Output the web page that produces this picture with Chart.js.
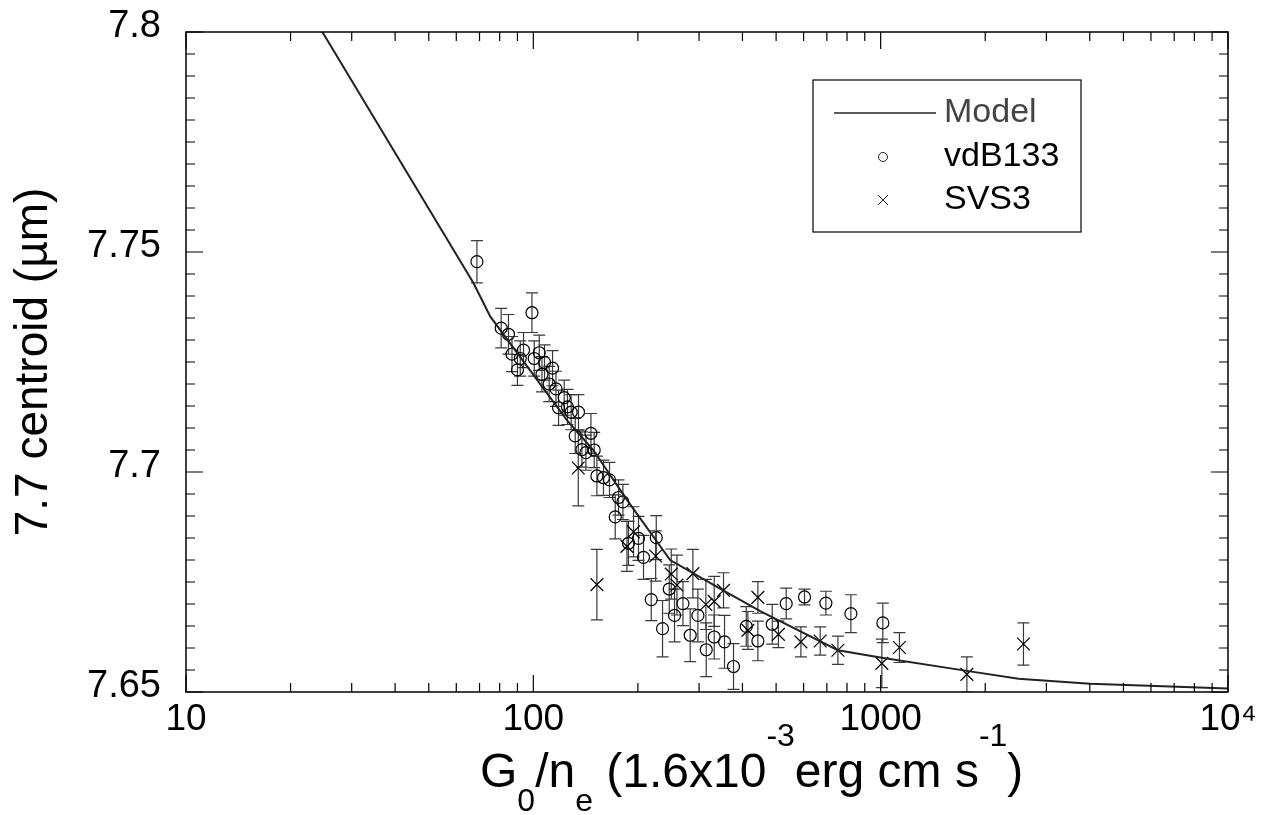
<!DOCTYPE html>
<html>
<head>
<meta charset="utf-8">
<script src="https://cdn.jsdelivr.net/npm/chart.js@4.4.1/dist/chart.umd.min.js"></script>
<style>
  html, body { margin: 0; padding: 0; background: #fff; }
  canvas { display: block; }
</style>
</head>
<body>
<canvas id="centroidChart" width="1276" height="815"></canvas>
<script>
// model curve
const modelX = [24.7, 67.3, 75.2, 124.9, 148.8, 186.2, 247.7, 352, 450, 753, 1008, 1771, 2493, 4009, 10000];
const modelY = [7.8, 7.7429, 7.7353, 7.7118, 7.705, 7.6936, 7.68, 7.6731, 7.6684, 7.6595, 7.6578, 7.6548, 7.653, 7.6519, 7.6508];

// vdB133 (circles)
const vdbX = [68.8, 99.1, 80.8, 84.8, 86.8, 90.0, 93.7, 91.7, 100.6, 104.0, 107.7, 105.9, 113.6, 111.1, 116.2,
  122.7, 118.2, 125.4, 128.5, 134.9, 132.0, 146.5, 138.0, 141.7, 149.7, 152.4, 159.2, 165.7, 175.9, 181.1,
  172.1, 187.9, 200.8, 207.6, 225.9, 218.5, 235.5, 246.2, 255.0, 269.6, 282.9, 297.7, 314.6, 331.7, 355.2,
  377.0, 410.2, 443.1, 487.3, 534.6, 603.6, 695.5, 820.8, 1014.6];
const vdbY = [7.7478, 7.7362, 7.7327, 7.7313, 7.7268, 7.7232, 7.7277, 7.7258, 7.7258, 7.7271, 7.7249, 7.7222, 7.7236, 7.7200, 7.7189,
  7.7169, 7.7146, 7.7148, 7.7136, 7.7136, 7.7082, 7.7088, 7.7051, 7.7044, 7.7050, 7.6991, 7.6987, 7.6982, 7.6942, 7.6932,
  7.6898, 7.6838, 7.6849, 7.6806, 7.6851, 7.6710, 7.6644, 7.6734, 7.6674, 7.6701, 7.6629, 7.6674, 7.6596, 7.6625, 7.6614,
  7.6558, 7.6649, 7.6616, 7.6654, 7.6701, 7.6716, 7.6702, 7.6678, 7.6657];
const vdbErr = [0.0048, 0.0045, 0.0045, 0.0045, 0.004, 0.0035, 0.004, 0.004, 0.004, 0.004, 0.004, 0.004, 0.004, 0.004, 0.004,
  0.004, 0.004, 0.004, 0.004, 0.004, 0.004, 0.0045, 0.004, 0.004, 0.004, 0.0045, 0.004, 0.004, 0.004, 0.004,
  0.005, 0.005, 0.005, 0.005, 0.005, 0.0048, 0.0064, 0.0055, 0.006, 0.005, 0.006, 0.006, 0.0061, 0.005, 0.006,
  0.0052, 0.0045, 0.0045, 0.0045, 0.0035, 0.0018, 0.0027, 0.0043, 0.0045];

// SVS3 (crosses)
const svsX = [134.7, 152.4, 186.0, 194.3, 225.0, 249.5, 259.1, 288.0, 313.9, 331.7, 352.8, 414.7, 443.1, 507.7,
  589.3, 669.7, 753.2, 1008, 1132.5, 1771, 2577];
const svsY = [7.7009, 7.6744, 7.6831, 7.6864, 7.6809, 7.6768, 7.6743, 7.6769, 7.6699, 7.6706, 7.6731, 7.6640, 7.6715, 7.6631,
  7.6614, 7.6616, 7.6595, 7.6565, 7.6601, 7.6540, 7.6609];
const svsErr = [0.0086, 0.008, 0.0057, 0.0057, 0.0057, 0.0057, 0.0068, 0.0055, 0.0057, 0.0057, 0.004, 0.0043, 0.0036, 0.003,
  0.0034, 0.0032, 0.0032, 0.0055, 0.0034, 0.004, 0.0048];

const xTicks = [10, 100, 1000, 10000];
const yTicks = [7.65, 7.7, 7.75, 7.8];

const FONT = 'Liberation Sans, Arial, Helvetica, sans-serif';

function pts(xs, ys) {
  return xs.map((x, i) => ({ x: x, y: ys[i] }));
}

// vertical error bars with caps, drawn under the markers
const errorBars = {
  id: 'errorBars',
  beforeDatasetsDraw(chart) {
    const ctx = chart.ctx;
    const xs = chart.scales.x, ys = chart.scales.y;
    const area = chart.chartArea;
    ctx.save();
    ctx.beginPath();
    ctx.rect(area.left, area.top, area.right - area.left, area.bottom - area.top);
    ctx.clip();
    ctx.strokeStyle = '#3a3a3a';
    ctx.lineWidth = 1.2;
    chart.data.datasets.forEach(ds => {
      if (!ds.errors) return;
      ds.data.forEach((p, i) => {
        const px = xs.getPixelForValue(p.x);
        const y1 = ys.getPixelForValue(p.y + ds.errors[i]);
        const y2 = ys.getPixelForValue(p.y - ds.errors[i]);
        ctx.beginPath();
        ctx.moveTo(px, y1); ctx.lineTo(px, y2);
        ctx.moveTo(px - 6, y1); ctx.lineTo(px + 6, y1);
        ctx.moveTo(px - 6, y2); ctx.lineTo(px + 6, y2);
        ctx.stroke();
      });
    });
    ctx.restore();
  }
};

// box, inward ticks on all four sides, legend and x title
const frame = {
  id: 'frame',
  afterDraw(chart) {
    const ctx = chart.ctx;
    const a = chart.chartArea;
    const xs = chart.scales.x, ys = chart.scales.y;
    ctx.save();
    ctx.strokeStyle = '#000';
    ctx.lineWidth = 1.5;
    ctx.strokeRect(a.left, a.top, a.right - a.left, a.bottom - a.top);

    ctx.lineWidth = 1.2;
    ctx.beginPath();
    for (let d = 10; d <= 10000; d *= 10) {
      for (let m = 1; m <= 9; m++) {
        const v = d * m;
        if (v > 10000) break;
        const px = xs.getPixelForValue(v);
        const len = m === 1 ? 17 : 9;
        ctx.moveTo(px, a.bottom); ctx.lineTo(px, a.bottom - len);
        ctx.moveTo(px, a.top); ctx.lineTo(px, a.top + len);
      }
    }
    for (let k = 0; k <= 30; k++) {
      const v = 7.65 + k * 0.005;
      const py = ys.getPixelForValue(v);
      const len = k % 10 === 0 ? 17 : 9;
      ctx.moveTo(a.left, py); ctx.lineTo(a.left + len, py);
      ctx.moveTo(a.right, py); ctx.lineTo(a.right - len, py);
    }
    ctx.stroke();

    // legend
    const lx = a.left + 627, ly = a.top + 48;
    ctx.lineWidth = 1.2;
    ctx.strokeRect(lx, ly, 268, 152);
    ctx.strokeStyle = '#222';
    ctx.lineWidth = 1.5;
    ctx.beginPath();
    ctx.moveTo(lx + 21, ly + 33); ctx.lineTo(lx + 123, ly + 33);
    ctx.stroke();
    ctx.lineWidth = 1;
    ctx.beginPath();
    ctx.arc(lx + 70, ly + 77, 4.5, 0, Math.PI * 2);
    ctx.stroke();
    ctx.beginPath();
    ctx.moveTo(lx + 65, ly + 115); ctx.lineTo(lx + 75, ly + 125);
    ctx.moveTo(lx + 75, ly + 115); ctx.lineTo(lx + 65, ly + 125);
    ctx.stroke();
    ctx.font = '34px ' + FONT;
    ctx.textBaseline = 'middle';
    ctx.fillStyle = '#444';
    ctx.fillText('Model', lx + 131, ly + 33);
    ctx.fillStyle = '#000';
    ctx.fillText('vdB133', lx + 131, ly + 77);
    ctx.fillText('SVS3', lx + 131, ly + 120);

    // x axis title with sub/superscripts
    const parts = [['G', 0], ['0', 1], ['/n', 0], ['e', 1], [' (1.6x10', 0], ['-3', -1], ['erg cm s', 0], ['-1', -1], [')', 0]];
    ctx.textBaseline = 'alphabetic';
    let x = 480;
    const base = 787;
    parts.forEach(([t, s]) => {
      ctx.font = (s === 0 ? 48 : 32) + 'px ' + FONT;
      const y = s === 1 ? base + 24 : s === -1 ? base - 41 : base;
      ctx.fillText(t, x, y);
      x += ctx.measureText(t).width;
    });
    ctx.restore();
  }
};

new Chart(document.getElementById('centroidChart').getContext('2d'), {
  type: 'scatter',
  data: {
    datasets: [
      {
        type: 'line',
        label: 'Model',
        data: pts(modelX, modelY),
        borderColor: '#222',
        borderWidth: 2,
        pointRadius: 0,
        tension: 0,
        fill: false,
        order: 0
      },
      {
        label: 'vdB133',
        data: pts(vdbX, vdbY),
        errors: vdbErr,
        pointStyle: 'circle',
        pointRadius: 6,
        borderColor: '#000',
        backgroundColor: 'rgba(255,255,255,0)',
        borderWidth: 1.2,
        order: 1
      },
      {
        label: 'SVS3',
        data: pts(svsX, svsY),
        errors: svsErr,
        pointStyle: 'crossRot',
        pointRadius: 9,
        borderColor: '#000',
        borderWidth: 1.2,
        order: 2
      }
    ]
  },
  options: {
    responsive: false,
    animation: false,
    layout: { padding: { top: 32, right: 48, left: 0, bottom: 0 } },
    plugins: { legend: { display: false }, tooltip: { enabled: false } },
    scales: {
      x: {
        type: 'logarithmic',
        min: 10,
        max: 10000,
        afterBuildTicks: s => { s.ticks = xTicks.map(v => ({ value: v })); },
        afterFit: s => { s.height = 123; s.paddingLeft = 0; s.paddingRight = 0; },
        grid: { display: false, drawTicks: false },
        border: { display: false },
        ticks: {
          font: { family: FONT, size: 37 },
          color: '#000',
          padding: 6,
          maxRotation: 0,
          autoSkip: false,
          callback: v => (v === 10000 ? '10\u2074' : String(v))
        }
      },
      y: {
        type: 'linear',
        min: 7.65,
        max: 7.8,
        afterBuildTicks: s => { s.ticks = yTicks.map(v => ({ value: v })); },
        afterFit: s => { s.width = 186; s.paddingTop = 0; s.paddingBottom = 0; },
        grid: { display: false, drawTicks: false },
        border: { display: false },
        ticks: {
          font: { family: FONT, size: 38 },
          color: '#000',
          padding: 25,
          labelOffset: -5,
          callback: v => String(+v.toFixed(2))
        },
        title: {
          display: true,
          text: '7.7 centroid (\u00b5m)',
          font: { family: FONT, size: 46 },
          color: '#000',
          padding: { top: 7, bottom: 0 }
        }
      }
    }
  },
  plugins: [errorBars, frame]
});
</script>
</body>
</html>
